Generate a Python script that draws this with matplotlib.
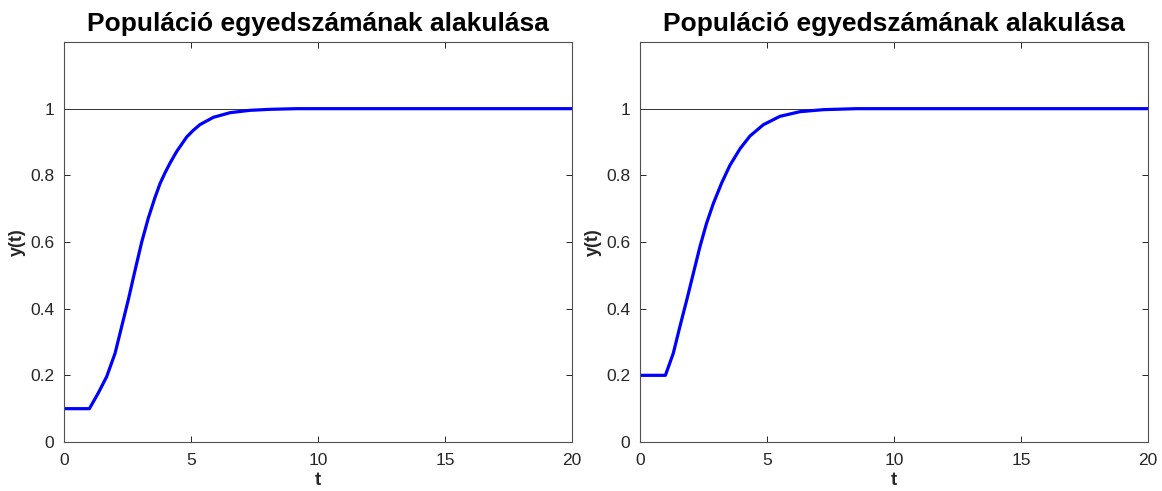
import matplotlib.pyplot as plt

plt.rcParams['font.family'] = ['Liberation Sans', 'DejaVu Sans']

# values
t_left = [0, 1.0, 1.35, 1.68, 2.01, 2.27, 2.53, 2.80, 3.06, 3.32, 3.58, 3.78, 3.98, 4.17, 4.44,
          4.83, 5.09, 5.35, 5.88, 6.54, 7.32, 8.11, 9.16, 20]
y_left = [0.1, 0.1, 0.147, 0.196, 0.266, 0.346, 0.426, 0.516, 0.600, 0.672, 0.733, 0.775, 0.808, 0.836, 0.872,
          0.915, 0.935, 0.952, 0.974, 0.988, 0.995, 0.998, 1.0, 1.0]

t_right = [0, 1.0, 1.31, 1.57, 1.84, 2.10, 2.36, 2.62, 2.89, 3.22, 3.54, 3.94, 4.33, 4.86,
           5.51, 6.30, 7.22, 8.53, 20]
y_right = [0.2, 0.2, 0.266, 0.346, 0.426, 0.506, 0.586, 0.656, 0.716, 0.778, 0.830, 0.880, 0.918, 0.952,
           0.977, 0.991, 0.997, 1.0, 1.0]

x_ticks = [0, 5, 10, 15, 20]
y_ticks = [0, 0.2, 0.4, 0.6, 0.8, 1]
y_tick_labels = ['0', '0.2', '0.4', '0.6', '0.8', '1']

title = 'Populáció egyedszámának alakulása'
axis_color = '#262626'

fig = plt.figure(figsize=(11.62, 4.91), dpi=100)
ax1 = fig.add_axes([64 / 1162, 1 - 442 / 491, 508 / 1162, 400 / 491])
ax2 = fig.add_axes([640 / 1162, 1 - 442 / 491, 508 / 1162, 400 / 491])

for ax, t, y in [(ax1, t_left, y_left), (ax2, t_right, y_right)]:
    # carrying capacity line
    ax.plot([0, 20], [1, 1], color='#333333', linewidth=0.7)
    ax.plot(t, y, color='#0000ff', linewidth=2.3, solid_joinstyle='round')

    ax.set_xlim(0, 20)
    ax.set_ylim(0, 1.2)
    ax.set_xticks(x_ticks)
    ax.set_yticks(y_ticks)
    ax.set_yticklabels(y_tick_labels)
    ax.tick_params(direction='in', top=True, right=True, length=4, width=0.7,
                   colors=axis_color, labelsize=12.5, labelcolor=axis_color)
    ax.tick_params(axis='x', pad=8)
    ax.tick_params(axis='y', pad=7)
    for spine in ax.spines.values():
        spine.set_color('#505050')
        spine.set_linewidth(0.8)

    ax.set_title(title, fontsize=19, fontweight='bold', pad=8)
    ax.set_xlabel('t', fontsize=13.5, fontweight='bold', color=axis_color, labelpad=3)
    ax.set_ylabel('y(t)', fontsize=13, fontweight='bold', color=axis_color, labelpad=3)

plt.savefig('out.png', dpi=100)
plt.close()
